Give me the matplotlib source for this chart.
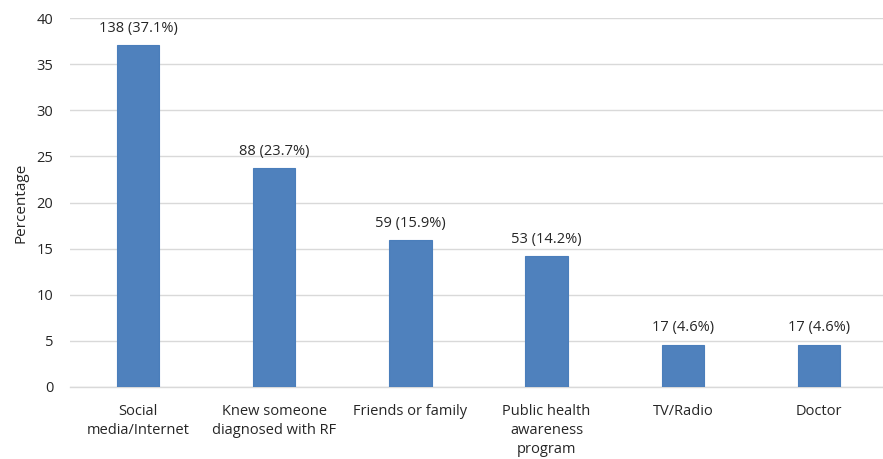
import matplotlib
matplotlib.use("Agg")
import matplotlib.pyplot as plt

categories = ["Social\nmedia/Internet", "Knew someone\ndiagnosed with RF", "Friends or family",
              "Public health\nawareness\nprogram", "TV/Radio", "Doctor"]
percentages = [37.1, 23.7, 15.9, 14.2, 4.6, 4.6]
counts = [138, 88, 59, 53, 17, 17]
yticks = [0, 5, 10, 15, 20, 25, 30, 35, 40]

plt.rcParams['font.family'] = ['Open Sans', 'DejaVu Sans']

fig = plt.figure(figsize=(8.83, 4.59), dpi=100)
ax = fig.add_axes([70/883, 1-387/459, 817/883, (387-18)/459])

x = list(range(len(categories)))
bars = ax.bar(x, percentages, width=0.31, color="#4F81BD", edgecolor="#4A7EBB", linewidth=0.8, zorder=3)
for xi, p, c in zip(x, percentages, counts):
    ax.text(xi, p + 1.0, f"{c} ({p}%)", ha="center", va="bottom", fontsize=10.5, color="#262626")

ax.set_xlim(-0.5, len(categories) - 0.5)
ax.set_ylim(0, 40)
ax.set_yticks(yticks)
ax.set_xticks(x)
ax.set_xticklabels(categories, fontsize=10.5, color="#262626", va="top", linespacing=1.4)
ax.tick_params(axis="y", labelsize=10.5, colors="#262626", length=0, pad=12)
ax.tick_params(axis="x", length=0, pad=12)
ax.grid(axis="y", color="#D9D9D9", linewidth=1.0, zorder=0)
for s in ["top", "right", "left"]:
    ax.spines[s].set_visible(False)
ax.spines["bottom"].set_color("#D9D9D9")
ax.spines["bottom"].set_linewidth(1.0)
ax.set_ylabel("Percentage", fontsize=11, color="#262626", labelpad=6)

fig.savefig("out.png", dpi=100)
